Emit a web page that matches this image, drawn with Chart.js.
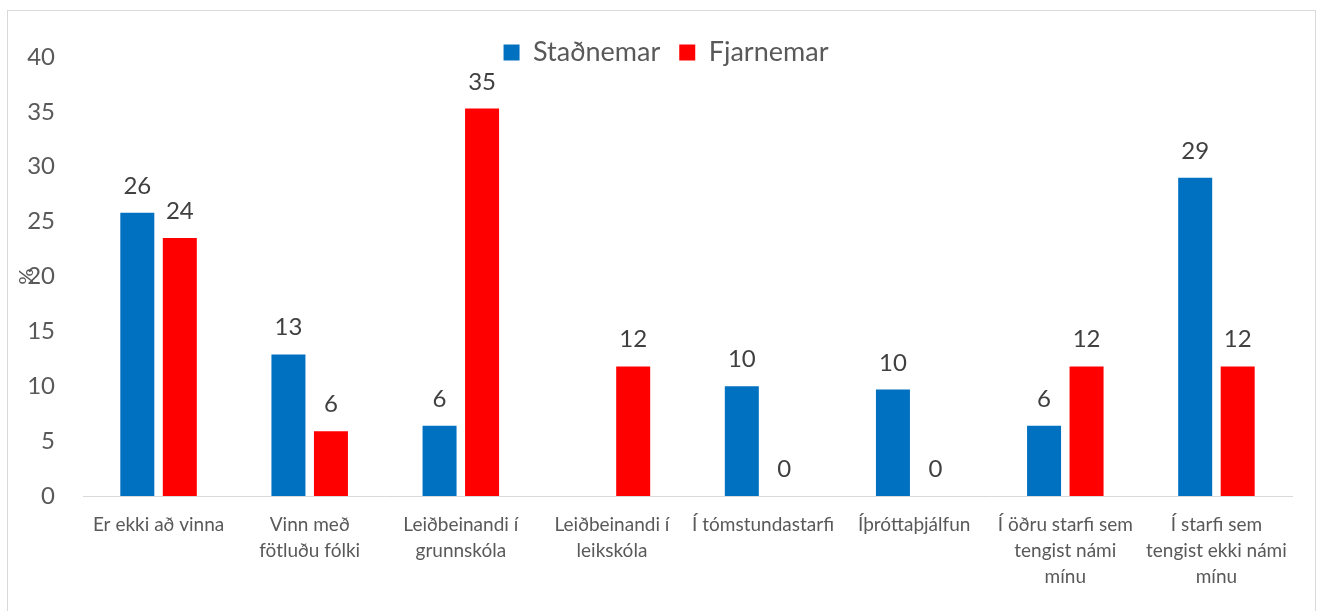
<!DOCTYPE html>
<html lang="is">
<head>
<meta charset="utf-8">
<title>Staðnemar og fjarnemar</title>
<script src="https://cdn.jsdelivr.net/npm/chart.js@4.4.1/dist/chart.umd.min.js"></script>
<style>
  html, body { margin: 0; padding: 0; background: #fff; overflow: hidden; }
  #frame { position: absolute; left: 7px; top: 10px; width: 1307px; height: 700px; border: 1px solid #d9d9d9; }
  #wrap { position: absolute; left: 0; top: 0; width: 1320px; height: 611px; }
</style>
</head>
<body>
<div id="frame"></div>
<div id="wrap"><canvas id="chart" width="1320" height="611"></canvas></div>
<script>
const categories = [
  'Er ekki að vinna',
  ['Vinn með', 'fötluðu fólki'],
  ['Leiðbeinandi í', 'grunnskóla'],
  ['Leiðbeinandi í', 'leikskóla'],
  'Í tómstundastarfi',
  'Íþróttaþjálfun',
  ['Í öðru starfi sem', 'tengist námi', 'mínu'],
  ['Í starfi sem', 'tengist ekki námi', 'mínu']
];
const seriesNames = ['Staðnemar', 'Fjarnemar'];
const stadnemar = [25.8, 12.9, 6.4, null, 10.0, 9.7, 6.4, 29.0];
const fjarnemar = [23.5, 5.9, 35.3, 11.8, 0, 0, 11.8, 11.8];
const yMin = 0;
const yMax = 40;
const yStep = 5;
const yTitle = '%';

// value labels above each bar, rounded like in the original
const barLabels = {
  id: 'barLabels',
  afterDatasetsDraw(chart) {
    const ctx = chart.ctx;
    ctx.save();
    ctx.font = '24px Lato';
    ctx.fillStyle = '#404040';
    ctx.textAlign = 'center';
    ctx.textBaseline = 'alphabetic';
    chart.data.datasets.forEach((ds, i) => {
      chart.getDatasetMeta(i).data.forEach((bar, j) => {
        const v = ds.data[j];
        if (v === null || v === undefined) return;
        ctx.fillText(String(Math.round(v)), bar.x, bar.y - 19);
      });
    });
    ctx.restore();
  }
};

// legend overlaps the top of the plot a bit and sits right of the middle
const legendShift = {
  id: 'legendShift',
  beforeDraw(chart) {
    const lg = chart.legend;
    if (!lg) return;
    lg.left = 40;
    lg.bottom = lg.top + 60;
  }
};

function draw() {
  Chart.defaults.font.family = 'Lato';
  const ctx = document.getElementById('chart').getContext('2d');
  new Chart(ctx, {
    type: 'bar',
    data: {
      labels: categories,
      datasets: [
        {
          label: seriesNames[0],
          data: stadnemar,
          backgroundColor: '#0070C0',
          borderWidth: 0
        },
        {
          label: seriesNames[1],
          data: fjarnemar,
          backgroundColor: '#FF0000',
          borderWidth: 0
        }
      ]
    },
    options: {
      responsive: false,
      animation: false,
      categoryPercentage: 0.5625,
      barPercentage: 0.8,
      layout: {
        padding: { left: 3, right: 28, top: 20, bottom: 5 }
      },
      plugins: {
        legend: {
          position: 'top',
          maxHeight: 37,
          labels: {
            color: '#595959',
            font: { size: 27 },
            boxWidth: 16,
            boxHeight: 16,
            padding: 19
          }
        },
        tooltip: { enabled: false }
      },
      scales: {
        x: {
          grid: { display: false, drawTicks: false },
          border: { display: true, color: '#d9d9d9', width: 1 },
          ticks: {
            color: '#595959',
            font: { size: 19, lineHeight: '26px' },
            padding: 16,
            maxRotation: 0,
            autoSkip: false
          }
        },
        y: {
          min: yMin,
          max: yMax,
          afterFit(scale) {
            scale.width = 80;
          },
          grid: { display: false, drawTicks: false },
          border: { display: false },
          ticks: {
            stepSize: yStep,
            color: '#595959',
            font: { size: 24 },
            padding: 28
          },
          title: {
            display: true,
            text: yTitle,
            color: '#595959',
            font: { size: 20, lineHeight: 1.2 },
            padding: { top: 12, bottom: -12 }
          }
        }
      }
    },
    plugins: [barLabels, legendShift]
  });
}

if (document.fonts && document.fonts.load) {
  document.fonts.load('24px Lato').then(draw, draw);
} else {
  draw();
}
</script>
</body>
</html>
